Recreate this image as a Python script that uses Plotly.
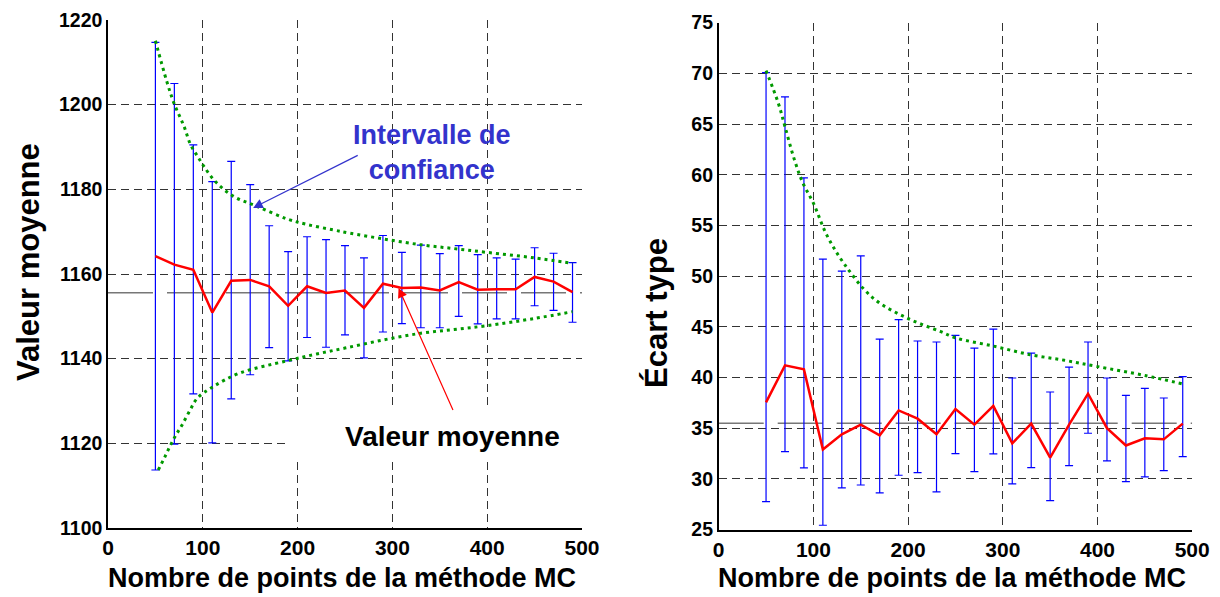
import plotly.graph_objects as go

# ---------------- data ----------------
n_points = [50, 70, 90, 110, 130, 150, 170, 190, 210, 230, 250, 270,
            290, 310, 330, 350, 370, 390, 410, 430, 450, 470, 490]

# left: mean value
mean_val = [1164.2, 1162.2, 1161.0, 1150.9, 1158.4, 1158.6, 1157.1, 1152.5,
            1157.1, 1155.5, 1156.1, 1152.0, 1157.7, 1156.7, 1156.8, 1156.1,
            1158.1, 1156.3, 1156.4, 1156.4, 1159.3, 1158.2, 1155.7]
mean_upper = [1214.7, 1205.0, 1190.5, 1181.8, 1186.6, 1181.1, 1171.4, 1165.3,
              1168.8, 1168.1, 1166.7, 1163.8, 1169.1, 1165.1, 1166.8, 1164.8,
              1166.7, 1164.6, 1163.8, 1163.5, 1166.2, 1164.9, 1162.7]
mean_lower = [1113.7, 1119.8, 1131.7, 1120.1, 1130.5, 1136.2, 1142.6, 1139.5,
              1145.0, 1142.7, 1145.6, 1140.2, 1146.3, 1148.3, 1147.3, 1147.3,
              1150.0, 1148.2, 1149.4, 1149.4, 1152.5, 1151.4, 1148.6]
mean_ref = 1155.6

ci_up_x = [50, 62, 70, 80, 87, 95, 101, 113, 132, 157, 189, 210, 238, 254, 290, 330, 365, 400, 450, 490]
ci_up_y = [1215.1, 1205.5, 1200.1, 1195.0, 1190.6, 1187.6, 1185.5, 1181.9, 1178.4, 1176.0,
           1173.0, 1171.7, 1170.4, 1169.7, 1168.3, 1166.9, 1166.0, 1165.1, 1163.8, 1162.5]
ci_lo_x = [53, 60, 66, 72, 78, 86, 94, 111, 139, 189, 220, 250, 290, 330, 365, 400, 450, 490]
ci_lo_y = [1113.7, 1116.8, 1119.6, 1122.1, 1124.3, 1127.6, 1130.6, 1133.4, 1136.6, 1139.5,
           1141.1, 1142.5, 1144.4, 1146.0, 1146.9, 1147.8, 1149.5, 1151.1]

# right: standard deviation
std_val = [37.55, 41.2, 40.8, 32.9, 34.4, 35.35, 34.3, 36.75, 35.94, 34.4, 36.9, 35.35,
           37.2, 33.5, 35.45, 32.1, 35.35, 38.4, 35.0, 33.3, 34.0, 33.9, 35.45]
std_upper = [70.06, 67.67, 59.68, 51.67, 50.49, 52.0, 43.79, 45.7, 43.6, 43.5, 44.15, 42.9,
             44.78, 39.95, 42.41, 38.57, 41.03, 43.5, 39.95, 38.24, 38.93, 37.98, 40.08]
std_lower = [27.76, 32.69, 31.08, 25.43, 29.11, 29.4, 28.62, 30.36, 30.62, 28.72, 32.49, 30.72,
             32.46, 29.5, 31.11, 27.86, 31.31, 34.5, 31.77, 29.73, 30.2, 30.82, 32.2]
std_ref = 35.5

std_ci_x = [50, 63, 70, 80, 89, 100, 114, 132, 163, 199, 234, 251, 290, 329, 365, 399, 450, 490]
std_ci_y = [70.26, 67.04, 64.74, 61.46, 59.16, 57.19, 54.07, 51.28, 47.83, 45.86, 44.54,
            43.89, 43.1, 42.25, 41.7, 41.1, 40.2, 39.36]

x_ticks = [0, 100, 200, 300, 400, 500]
mean_ticks = [1100, 1120, 1140, 1160, 1180, 1200, 1220]
std_ticks = [25, 30, 35, 40, 45, 50, 55, 60, 65, 70, 75]

x_title = "Nombre de points de la méthode MC"
y_title_left = "Valeur moyenne"
y_title_right = "Écart type"

# ---------------- styles ----------------
FONT = "Liberation Sans, Arial, sans-serif"
BLUE = "#0000ff"
RED = "#ff0000"
GREEN = "#009900"
GRID = "#333333"
W, H = 1220, 597

fig = go.Figure()


def add_panel(xr, yr, vals, upper, lower, ref, cux, cuy, clx=None, cly=None):
    fig.add_trace(go.Scatter(x=[0, 500], y=[ref, ref], mode="lines",
                             line=dict(color="#777777", width=1.5, dash="45px,14px"),
                             xaxis=xr, yaxis=yr, showlegend=False, hoverinfo="skip"))
    fig.add_trace(go.Scatter(
        x=n_points, y=vals, mode="markers", marker=dict(size=0.1, color=BLUE),
        error_y=dict(type="data", symmetric=False,
                     array=[u - v for u, v in zip(upper, vals)],
                     arrayminus=[v - l for v, l in zip(vals, lower)],
                     color=BLUE, thickness=1.2, width=4),
        xaxis=xr, yaxis=yr, showlegend=False))
    fig.add_trace(go.Scatter(x=cux, y=cuy, mode="lines", line_shape="spline",
                             line=dict(color=GREEN, width=3, dash="3px,4px"),
                             xaxis=xr, yaxis=yr, showlegend=False))
    if clx is not None:
        fig.add_trace(go.Scatter(x=clx, y=cly, mode="lines", line_shape="spline",
                                 line=dict(color=GREEN, width=3, dash="3px,4px"),
                                 xaxis=xr, yaxis=yr, showlegend=False))
    fig.add_trace(go.Scatter(x=n_points, y=vals, mode="lines",
                             line=dict(color=RED, width=2.5),
                             xaxis=xr, yaxis=yr, showlegend=False))


add_panel("x", "y", mean_val, mean_upper, mean_lower, mean_ref,
          ci_up_x, ci_up_y, ci_lo_x, ci_lo_y)
add_panel("x2", "y2", std_val, std_upper, std_lower, std_ref,
          std_ci_x, std_ci_y)

axis_common = dict(showgrid=True, gridcolor=GRID, griddash="8px,5px", gridwidth=1,
                   showline=True, linecolor="black", linewidth=1.5, zeroline=False,
                   ticks="", color="black", automargin=False)

xtick_font = dict(size=21, family=FONT, weight="bold", color="black")
ytick_font = dict(size=19.5, family=FONT, weight="bold", color="black")


def px(x):
    return x / W


def py(y):
    return 1 - y / H


title_font_x = dict(size=27, family=FONT, weight="bold", color="black")
title_font_y = dict(size=31, family=FONT, weight="bold", color="black")

fig.update_layout(
    width=W, height=H,
    margin=dict(l=0, r=0, t=0, b=0, autoexpand=False),
    paper_bgcolor="white", plot_bgcolor="white",
    font=dict(family=FONT, color="black"),
    xaxis=dict(domain=[px(108), px(582)], range=[0, 500], tickvals=x_ticks,
               tickfont=xtick_font, anchor="y", **axis_common),
    yaxis=dict(domain=[py(528), py(20)], range=[1100, 1220], tickvals=mean_ticks,
               tickfont=ytick_font, anchor="x", **axis_common),
    xaxis2=dict(domain=[px(718.7), px(1192.2)], range=[0, 500], tickvals=x_ticks,
                tickfont=xtick_font, anchor="y2", **axis_common),
    yaxis2=dict(domain=[py(529.6), py(22.6)], range=[25, 75], tickvals=std_ticks,
                tickfont=ytick_font, anchor="x2", **axis_common),
    shapes=[dict(type="rect", xref="paper", yref="paper",
                 x0=px(285), x1=px(590), y0=py(458), y1=py(405),
                 fillcolor="white", line=dict(width=0), layer="above")],
    annotations=[
        # axis titles
        dict(x=px(342), y=py(578), xref="paper", yref="paper", showarrow=False,
             text=x_title, font=title_font_x, xanchor="center", yanchor="middle"),
        dict(x=px(952), y=py(578), xref="paper", yref="paper", showarrow=False,
             text=x_title, font=title_font_x, xanchor="center", yanchor="middle"),
        dict(x=px(28), y=py(262), xref="paper", yref="paper", showarrow=False,
             text=y_title_left, font=title_font_y, textangle=-90,
             xanchor="center", yanchor="middle"),
        dict(x=px(656), y=py(313), xref="paper", yref="paper", showarrow=False,
             text=y_title_right, font=title_font_y, textangle=-90,
             xanchor="center", yanchor="middle"),
        # callouts
        dict(x=153.1, y=1175.6, xref="x", yref="y", ax=265.0, ay=1188.2, axref="x", ayref="y",
             text="", showarrow=True, arrowhead=2, arrowsize=1.6, arrowwidth=1.2,
             arrowcolor="#3333cc"),
        dict(x=341.8, y=1188.7, xref="x", yref="y", showarrow=False,
             text="Intervalle de<br>confiance",
             font=dict(size=27, color="#3333cc", family=FONT, weight="bold"), align="center"),
        dict(x=306.5, y=1156.7, xref="x", yref="y", ax=364.6, ay=1127.5, axref="x", ayref="y",
             text="", showarrow=True, arrowhead=2, arrowsize=1.6, arrowwidth=1.2,
             arrowcolor=RED),
        dict(x=362.9, y=1121.5, xref="x", yref="y", showarrow=False,
             text="Valeur moyenne",
             font=dict(size=28, color="black", family=FONT, weight="bold")),
    ],
)

fig.write_html("out.html", post_script="document.body.style.margin='0';",
               config={"displayModeBar": False})
